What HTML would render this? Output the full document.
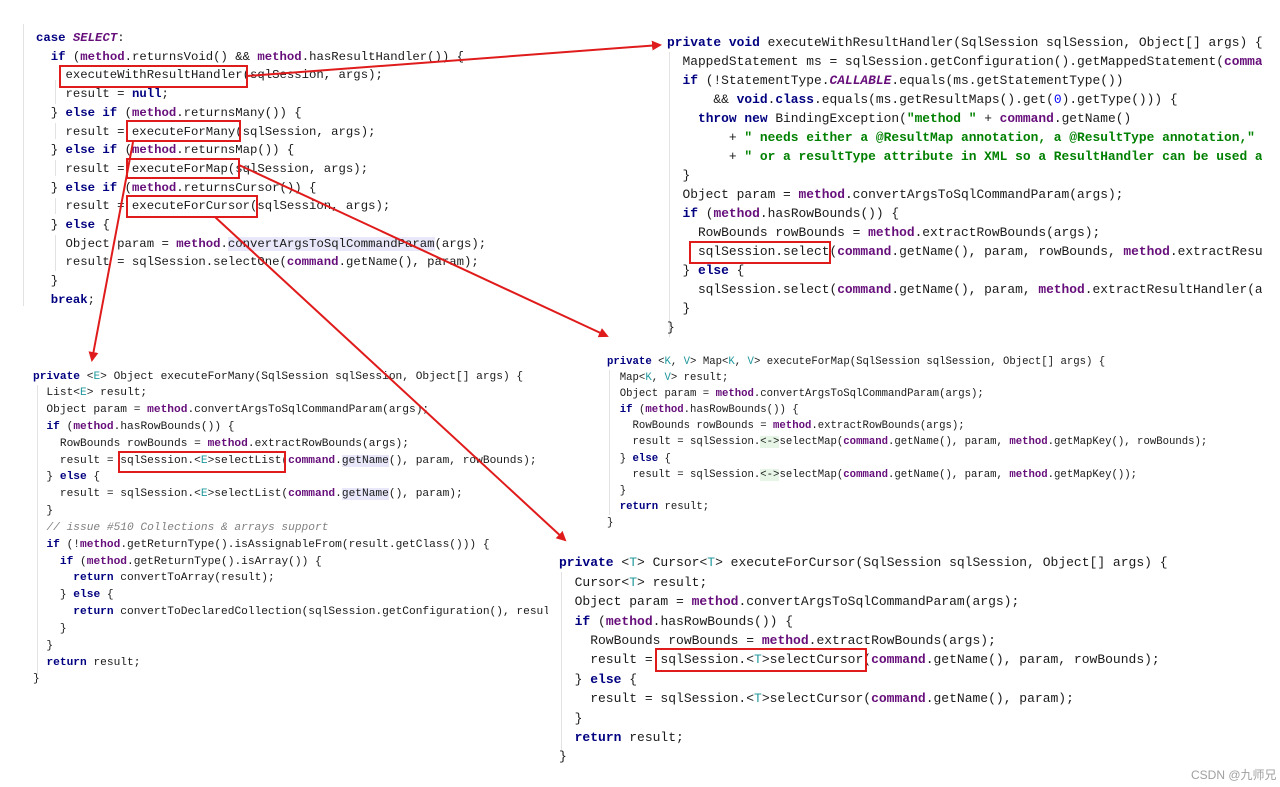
<!DOCTYPE html>
<html><head><meta charset="utf-8"><style>
html,body{margin:0;padding:0;background:#fff;}
body{width:1280px;height:787px;position:relative;overflow:hidden;font-family:"Liberation Mono",monospace;color:#1a1a1a;}
.b{position:absolute;white-space:pre;overflow:hidden;}
.k{color:#000080;font-weight:bold;}
.m{color:#660e7a;font-weight:bold;}
.i{color:#660e7a;font-weight:bold;font-style:italic;}
.s{color:#008000;font-weight:bold;}
.t{color:#20999d;}
.n{color:#0000ff;}
.c{color:#808080;font-style:italic;}
.h{background:#e8e8fa;}
.g{background:#e6f5e6;}
.gl{position:absolute;width:1px;background:#e2e2e2;}
svg{position:absolute;left:0;top:0;}
</style></head><body>
<div class="gl" style="left:23px;top:24px;height:282px"></div>
<div class="gl" style="left:55px;top:80px;height:24px"></div>
<div class="gl" style="left:55px;top:123px;height:16px"></div>
<div class="gl" style="left:55px;top:160px;height:16px"></div>
<div class="gl" style="left:55px;top:198px;height:16px"></div>
<div class="gl" style="left:55px;top:235px;height:36px"></div>
<div class="gl" style="left:669px;top:52px;height:285px"></div>
<div class="gl" style="left:37px;top:385px;height:290px"></div>
<div class="gl" style="left:609px;top:370px;height:145px"></div>
<div class="gl" style="left:561px;top:572px;height:178px"></div>

<div class="b" style="left:36px;top:29px;font-size:12.3px;line-height:18.7px;"><span class="k">case</span> <span class="i">SELECT</span>:
  <span class="k">if</span> (<span class="m">method</span>.returnsVoid() &amp;&amp; <span class="m">method</span>.hasResultHandler()) {
    executeWithResultHandler(sqlSession, args);
    result = <span class="k">null</span>;
  } <span class="k">else if</span> (<span class="m">method</span>.returnsMany()) {
    result = executeForMany(sqlSession, args);
  } <span class="k">else if</span> (<span class="m">method</span>.returnsMap()) {
    result = executeForMap(sqlSession, args);
  } <span class="k">else if</span> (<span class="m">method</span>.returnsCursor()) {
    result = executeForCursor(sqlSession, args);
  } <span class="k">else</span> {
    Object param = <span class="m">method</span>.<span class="h">convertArgsToSqlCommandParam</span>(args);
    result = sqlSession.selectOne(<span class="m">command</span>.getName(), param);
  }
  <span class="k">break</span>;</div>

<div class="b" style="left:667px;top:32.5px;width:595px;font-size:12.9px;line-height:19px;"><span class="k">private void</span> executeWithResultHandler(SqlSession sqlSession, Object[] args) {
  MappedStatement ms = sqlSession.getConfiguration().getMappedStatement(<span class="m">command</span>
  <span class="k">if</span> (!StatementType.<span class="i">CALLABLE</span>.equals(ms.getStatementType())
      &amp;&amp; <span class="k">void</span>.<span class="k">class</span>.equals(ms.getResultMaps().get(<span class="n">0</span>).getType())) {
    <span class="k">throw new</span> BindingException(<span class="s">"method "</span> + <span class="m">command</span>.getName()
        + <span class="s">" needs either a @ResultMap annotation, a @ResultType annotation,"</span>
        + <span class="s">" or a resultType attribute in XML so a ResultHandler can be used as</span>
  }
  Object param = <span class="m">method</span>.convertArgsToSqlCommandParam(args);
  <span class="k">if</span> (<span class="m">method</span>.hasRowBounds()) {
    RowBounds rowBounds = <span class="m">method</span>.extractRowBounds(args);
    sqlSession.select(<span class="m">command</span>.getName(), param, rowBounds, <span class="m">method</span>.extractResultHandler
  } <span class="k">else</span> {
    sqlSession.select(<span class="m">command</span>.getName(), param, <span class="m">method</span>.extractResultHandler(args
  }
}</div>

<div class="b" style="left:33px;top:368.5px;width:515px;font-size:11.2px;line-height:16.83px;"><span class="k">private</span> &lt;<span class="t">E</span>&gt; Object executeForMany(SqlSession sqlSession, Object[] args) {
  List&lt;<span class="t">E</span>&gt; result;
  Object param = <span class="m">method</span>.convertArgsToSqlCommandParam(args);
  <span class="k">if</span> (<span class="m">method</span>.hasRowBounds()) {
    RowBounds rowBounds = <span class="m">method</span>.extractRowBounds(args);
    result = sqlSession.&lt;<span class="t">E</span>&gt;selectList(<span class="m">command</span>.<span class="h">getName</span>(), param, rowBounds);
  } <span class="k">else</span> {
    result = sqlSession.&lt;<span class="t">E</span>&gt;selectList(<span class="m">command</span>.<span class="h">getName</span>(), param);
  }
  <span class="c">// issue #510 Collections &amp; arrays support</span>
  <span class="k">if</span> (!<span class="m">method</span>.getReturnType().isAssignableFrom(result.getClass())) {
    <span class="k">if</span> (<span class="m">method</span>.getReturnType().isArray()) {
      <span class="k">return</span> convertToArray(result);
    } <span class="k">else</span> {
      <span class="k">return</span> convertToDeclaredCollection(sqlSession.getConfiguration(), result);
    }
  }
  <span class="k">return</span> result;
}</div>

<div class="b" style="left:607px;top:354px;font-size:10.65px;line-height:16.1px;"><span class="k">private</span> &lt;<span class="t">K</span>, <span class="t">V</span>&gt; Map&lt;<span class="t">K</span>, <span class="t">V</span>&gt; executeForMap(SqlSession sqlSession, Object[] args) {
  Map&lt;<span class="t">K</span>, <span class="t">V</span>&gt; result;
  Object param = <span class="m">method</span>.convertArgsToSqlCommandParam(args);
  <span class="k">if</span> (<span class="m">method</span>.hasRowBounds()) {
    RowBounds rowBounds = <span class="m">method</span>.extractRowBounds(args);
    result = sqlSession.<span class="g">&lt;-&gt;</span>selectMap(<span class="m">command</span>.getName(), param, <span class="m">method</span>.getMapKey(), rowBounds);
  } <span class="k">else</span> {
    result = sqlSession.<span class="g">&lt;-&gt;</span>selectMap(<span class="m">command</span>.getName(), param, <span class="m">method</span>.getMapKey());
  }
  <span class="k">return</span> result;
}</div>

<div class="b" style="left:559px;top:553.3px;font-size:13px;line-height:19.4px;"><span class="k">private</span> &lt;<span class="t">T</span>&gt; Cursor&lt;<span class="t">T</span>&gt; executeForCursor(SqlSession sqlSession, Object[] args) {
  Cursor&lt;<span class="t">T</span>&gt; result;
  Object param = <span class="m">method</span>.convertArgsToSqlCommandParam(args);
  <span class="k">if</span> (<span class="m">method</span>.hasRowBounds()) {
    RowBounds rowBounds = <span class="m">method</span>.extractRowBounds(args);
    result = sqlSession.&lt;<span class="t">T</span>&gt;selectCursor(<span class="m">command</span>.getName(), param, rowBounds);
  } <span class="k">else</span> {
    result = sqlSession.&lt;<span class="t">T</span>&gt;selectCursor(<span class="m">command</span>.getName(), param);
  }
  <span class="k">return</span> result;
}</div>

<div style="position:absolute;left:1191px;top:766px;font-family:'Liberation Sans','Noto Sans CJK SC',sans-serif;font-size:12px;color:#a0a0a0;">CSDN @九师兄</div>

<svg width="1280" height="787" viewBox="0 0 1280 787">
<defs><marker id="a" markerWidth="10" markerHeight="10" refX="8" refY="5" orient="auto" markerUnits="userSpaceOnUse"><path d="M0,0 L10,5 L0,10 z" fill="#e01b1b"/></marker></defs>
<g fill="none" stroke="#e01b1b" stroke-width="2">
<rect x="60" y="66" width="187" height="21"/>
<rect x="127" y="121" width="113" height="20"/>
<rect x="127" y="159" width="112" height="19"/>
<rect x="127" y="196" width="130" height="21"/>
<rect x="690" y="242" width="140" height="21"/>
<rect x="119" y="452" width="166" height="20"/>
<rect x="656" y="649" width="210" height="22"/>
<line x1="247" y1="76" x2="660" y2="45" marker-end="url(#a)"/>
<line x1="133" y1="142" x2="92" y2="360" marker-end="url(#a)"/>
<line x1="239" y1="165" x2="607" y2="336" marker-end="url(#a)"/>
<line x1="215" y1="217" x2="565" y2="540" marker-end="url(#a)"/>
</g>
</svg>
</body></html>
